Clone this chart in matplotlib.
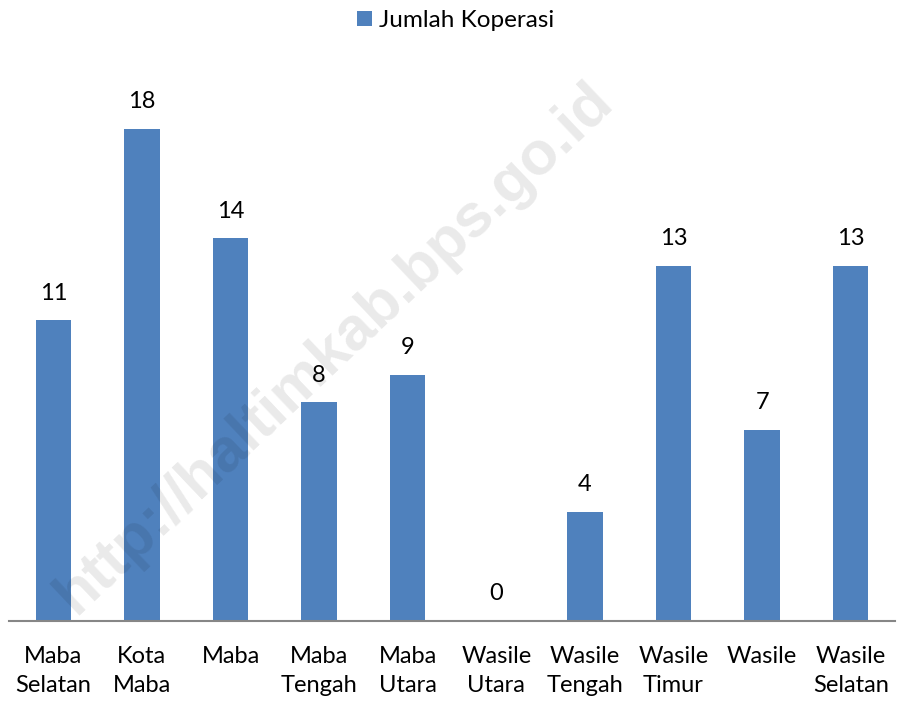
import matplotlib
matplotlib.use("Agg")
import matplotlib.pyplot as plt
import numpy as np

categories = ["Maba\nSelatan", "Kota\nMaba", "Maba", "Maba\nTengah", "Maba\nUtara",
              "Wasile\nUtara", "Wasile\nTengah", "Wasile\nTimur", "Wasile", "Wasile\nSelatan"]
values = [11, 18, 14, 8, 9, 0, 4, 13, 7, 13]
series_name = "Jumlah Koperasi"
watermark = "http://haltimkab.bps.go.id"

plt.rcParams["font.family"] = ["Lato", "DejaVu Sans"]

fig = plt.figure(figsize=(9.02, 7.04), dpi=100)
fig.patch.set_facecolor("white")
ax = fig.add_axes([0.00998, 0.1179, 0.9823, 0.7766])

x = np.arange(len(categories))
bars = ax.bar(x, values, width=0.4, color="#4F81BD", label=series_name, zorder=2)

for xi, v in zip(x, values):
    ax.annotate(str(v), (xi, v), xytext=(0, 12), textcoords="offset points",
                ha="center", va="bottom", fontsize=17, color="black", zorder=4)

# translucent watermark laid over the bars
ax.text(0.371, 0.505, watermark, transform=fig.transFigure, rotation=43.5,
        fontsize=44, fontweight="bold", family="Liberation Sans", color="black",
        alpha=0.085, ha="center", va="center", zorder=3, clip_on=False)

ax.set_xlim(-0.5, len(categories) - 0.5)
ax.set_ylim(0, 20)
ax.set_xticks(x)
ax.set_xticklabels(categories, fontsize=17, linespacing=1.45)
ax.tick_params(axis="x", length=0, pad=18)
ax.set_yticks([])
for side in ("left", "right", "top"):
    ax.spines[side].set_visible(False)
ax.spines["bottom"].set_color("#868686")
ax.spines["bottom"].set_linewidth(1.5)

fig.legend(handles=[bars], labels=[series_name], loc="center",
           bbox_to_anchor=(0.505, 0.971), frameon=False, fontsize=17.5,
           handlelength=0.6, handleheight=0.6, handletextpad=0.3)

fig.savefig("out.png", dpi=100, facecolor="white")
